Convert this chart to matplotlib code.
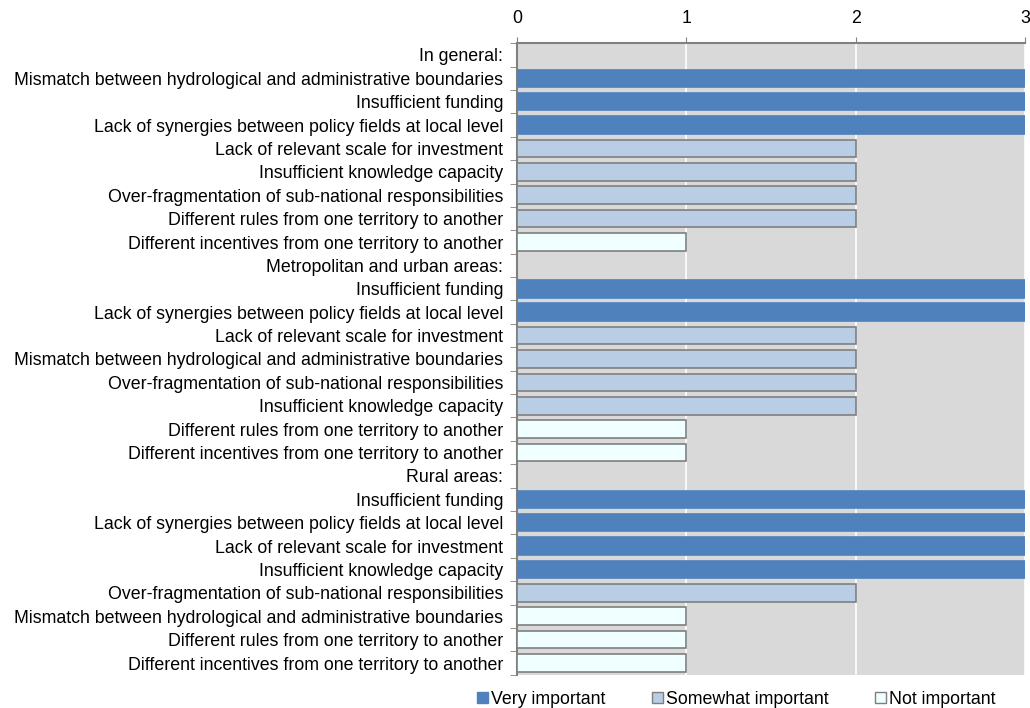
import numpy as np
import matplotlib.pyplot as plt
from matplotlib.patches import Patch

plt.rcParams['font.family'] = ['Liberation Sans', 'DejaVu Sans']

labels = [
    'In general:',
    'Mismatch between hydrological and administrative boundaries',
    'Insufficient funding',
    'Lack of synergies between policy fields at local level',
    'Lack of relevant scale for investment',
    'Insufficient knowledge capacity',
    'Over-fragmentation of sub-national responsibilities',
    'Different rules from one territory to another',
    'Different incentives from one territory to another',
    'Metropolitan and urban areas:',
    'Insufficient funding',
    'Lack of synergies between policy fields at local level',
    'Lack of relevant scale for investment',
    'Mismatch between hydrological and administrative boundaries',
    'Over-fragmentation of sub-national responsibilities',
    'Insufficient knowledge capacity',
    'Different rules from one territory to another',
    'Different incentives from one territory to another',
    'Rural areas:',
    'Insufficient funding',
    'Lack of synergies between policy fields at local level',
    'Lack of relevant scale for investment',
    'Insufficient knowledge capacity',
    'Over-fragmentation of sub-national responsibilities',
    'Mismatch between hydrological and administrative boundaries',
    'Different rules from one territory to another',
    'Different incentives from one territory to another',
]
# 3 = very important, 2 = somewhat important, 1 = not important, 0 = heading row
values = [0, 3, 3, 3, 2, 2, 2, 2, 1,
          0, 3, 3, 2, 2, 2, 2, 1, 1,
          0, 3, 3, 3, 3, 2, 1, 1, 1]

levels = {3: 'Very important', 2: 'Somewhat important', 1: 'Not important'}
fills = {3: '#4F81BD', 2: '#B9CDE5', 1: '#F0FFFF'}
edges = {3: '#4F81BD', 2: '#7F7F7F', 1: '#7F7F7F'}

fig = plt.figure(figsize=(10.3, 7.08), dpi=100)
ax = fig.add_axes([0.502, 0.047, 0.493, 0.892])
ax.set_facecolor('#D9D9D9')

y = np.arange(len(labels))
for yi, v in zip(y, values):
    if v == 0:
        continue
    ax.barh(yi, v, height=0.75, color=fills[v], edgecolor=edges[v], linewidth=1.2, zorder=3)

ax.set_xlim(0, 3)
ax.set_ylim(len(labels) - 0.5, -0.5)
ax.xaxis.tick_top()
ax.set_xticks([0, 1, 2, 3])
ax.tick_params(axis='x', direction='out', length=4, color='#808080', labelsize=12.8, pad=8)
ax.grid(axis='x', color='white', linewidth=1.2, zorder=1)

ax.set_yticks(y)
ax.set_yticklabels(labels, fontsize=12.8)
ax.set_yticks(np.arange(len(labels) + 1) - 0.5, minor=True)
ax.tick_params(axis='y', which='major', length=0, pad=10)
ax.tick_params(axis='y', which='minor', direction='out', length=5, color='#808080')

for s in ['right', 'bottom']:
    ax.spines[s].set_visible(False)
for s in ['left', 'top']:
    ax.spines[s].set_color('#808080')
    ax.spines[s].set_linewidth(1.5)

handles = [Patch(facecolor=fills[k], edgecolor=edges[k], label=levels[k]) for k in (3, 2, 1)]
fig.legend(handles=handles, loc='lower center', bbox_to_anchor=(0.715, -0.022), ncol=3,
           frameon=False, fontsize=12.8, handlelength=0.6, handleheight=0.6,
           handletextpad=0.2, columnspacing=2.6)

fig.savefig('out.png', dpi=100)
